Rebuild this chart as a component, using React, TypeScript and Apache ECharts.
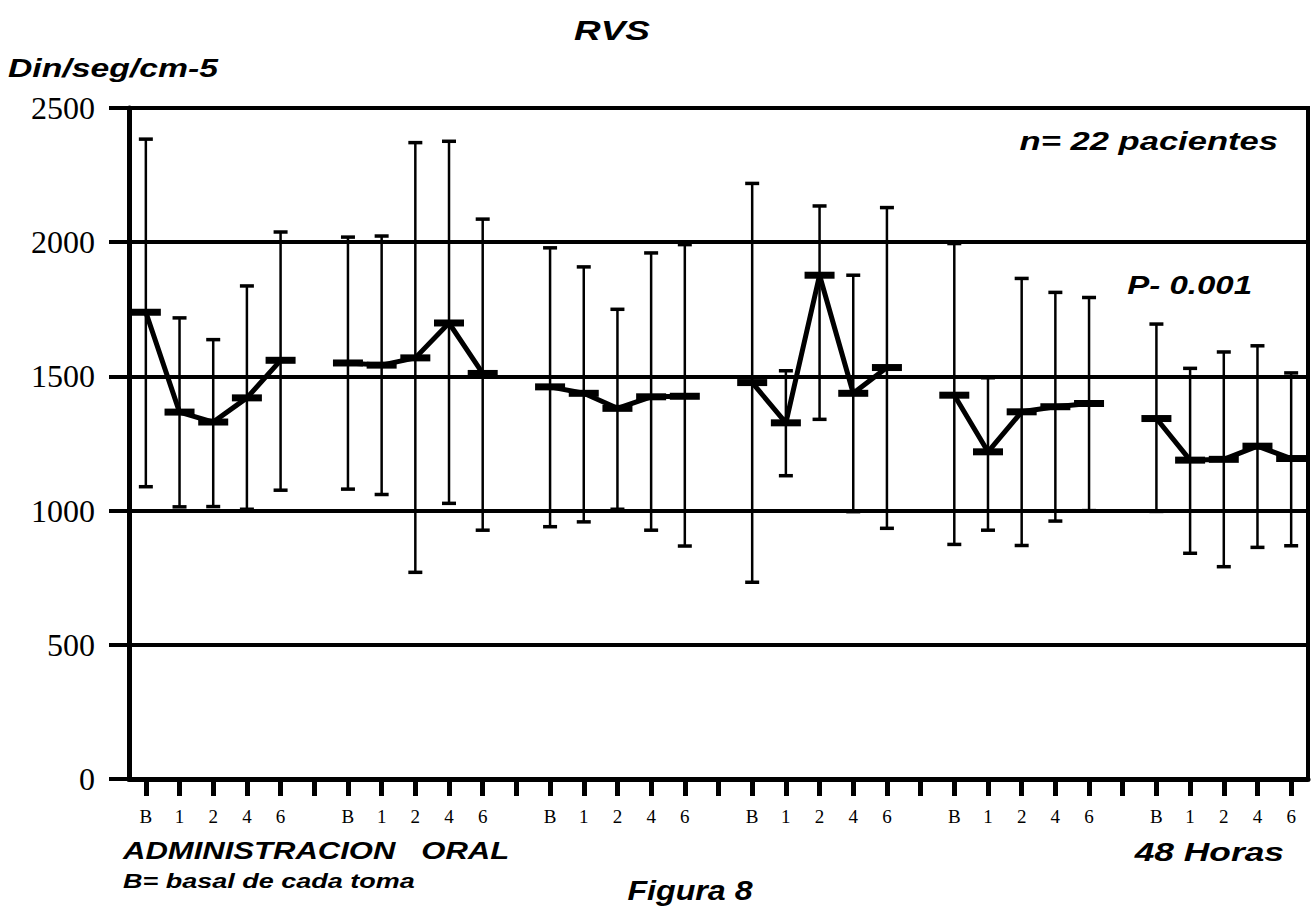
import React, { useEffect, useRef } from "react";
import * as echarts from "echarts";

const timeLabels = ["B", "1", "2", "4", "6"];
const groupCount = 6;

const means = [
  [1739, 1367, 1330, 1420, 1560],
  [1550, 1542, 1569, 1699, 1511],
  [1461, 1437, 1381, 1424, 1426],
  [1477, 1327, 1877, 1437, 1533],
  [1430, 1219, 1368, 1387, 1399],
  [1343, 1188, 1191, 1240, 1194],
];
const upper = [
  [2384, 1718, 1637, 1837, 2038],
  [2019, 2023, 2371, 2376, 2086],
  [1979, 1908, 1750, 1960, 1991],
  [2219, 1521, 2135, 1877, 2129],
  [1995, 1495, 1865, 1813, 1794],
  [1695, 1530, 1591, 1614, 1513],
];
const lower = [
  [1089, 1014, 1015, 1005, 1076],
  [1080, 1060, 770, 1027, 927],
  [940, 958, 1005, 927, 868],
  [733, 1130, 1340, 996, 934],
  [874, 927, 870, 961, 1000],
  [997, 841, 791, 863, 869],
];
const yTicks = [0, 500, 1000, 1500, 2000, 2500];

const SERIF = "'Liberation Serif', 'DejaVu Serif', serif";
const SANS = "'Liberation Sans', Arial, sans-serif";

function label(text: string, x: number, y: number, size: number, align: string, sx: number) {
  return {
    type: "text",
    x,
    y,
    scaleX: sx,
    style: {
      text,
      font: `italic bold ${size}px ${SANS}`,
      fill: "#000",
      textAlign: align,
      textVerticalAlign: "middle",
    },
  };
}

export default function App() {
  const ref = useRef<HTMLDivElement>(null);
  useEffect(() => {
    document.body.style.margin = "0";
    if (!ref.current) return;
    const chart = echarts.init(ref.current, undefined, { renderer: "svg" });

    const categories: string[] = [];
    const meanData: (number | string)[] = [];
    const errData: number[][] = [];
    for (let g = 0; g < groupCount; g++) {
      for (let i = 0; i < timeLabels.length; i++) {
        const idx = categories.length;
        categories.push(timeLabels[i] + "|" + g);
        meanData.push(means[g][i]);
        errData.push([idx, lower[g][i], upper[g][i]]);
      }
      if (g < groupCount - 1) {
        categories.push("|gap" + g);
        meanData.push("-");
      }
    }

    chart.setOption({
      animation: false,
      backgroundColor: "#ffffff",
      grid: {
        left: 129,
        right: 5,
        top: 108,
        bottom: 135,
        show: true,
        borderColor: "#000",
        borderWidth: 4,
        backgroundColor: "transparent",
      },
      xAxis: {
        type: "category",
        data: categories,
        boundaryGap: true,
        axisLine: { show: true, lineStyle: { color: "#000", width: 5 } },
        axisTick: {
          show: true,
          alignWithLabel: true,
          interval: 0,
          length: 17,
          lineStyle: { color: "#000", width: 5 },
        },
        axisLabel: {
          interval: 0,
          margin: 28,
          color: "#000",
          fontFamily: SERIF,
          fontSize: 19,
          formatter: (v: string) => v.split("|")[0],
        },
        splitLine: { show: false },
      },
      yAxis: {
        type: "value",
        min: yTicks[0],
        max: yTicks[yTicks.length - 1],
        interval: 500,
        axisLine: { show: true, lineStyle: { color: "#000", width: 5 } },
        axisTick: { show: true, length: 20, lineStyle: { color: "#000", width: 4 } },
        axisLabel: {
          color: "#000",
          fontFamily: SERIF,
          fontSize: 32,
          margin: 34,
          formatter: (v: number) => String(v),
        },
        splitLine: { show: true, lineStyle: { color: "#000", width: 4 } },
      },
      series: [
        {
          type: "custom",
          name: "error",
          data: errData,
          z: 2,
          renderItem: (params: any, api: any) => {
            const x = api.value(0);
            const lo = api.value(1);
            const hi = api.value(2);
            const pHi = api.coord([x, hi]);
            const pLo = api.coord([x, lo]);
            const hw = 7;
            const st = { stroke: "#000", lineWidth: 2.5 };
            return {
              type: "group",
              children: [
                { type: "line", shape: { x1: pHi[0], y1: pHi[1], x2: pLo[0], y2: pLo[1] }, style: st },
                { type: "line", shape: { x1: pHi[0] - hw, y1: pHi[1], x2: pHi[0] + hw, y2: pHi[1] }, style: { stroke: "#000", lineWidth: 3.5 } },
                { type: "line", shape: { x1: pLo[0] - hw, y1: pLo[1], x2: pLo[0] + hw, y2: pLo[1] }, style: { stroke: "#000", lineWidth: 3.5 } },
              ],
            };
          },
        },
        {
          type: "line",
          name: "media",
          data: meanData,
          connectNulls: false,
          z: 3,
          symbol: "rect",
          symbolSize: [30, 7],
          itemStyle: { color: "#000" },
          lineStyle: { color: "#000", width: 5 },
        },
      ],
      graphic: [
        label("RVS", 612, 30, 28, "center", 1.32),
        label("Din/seg/cm-5", 8, 68, 25, "left", 1.35),
        label("n= 22 pacientes", 1278, 141, 26, "right", 1.33),
        label("P- 0.001", 1252, 285, 26, "right", 1.27),
        label("ADMINISTRACION   ORAL", 123, 851, 23, "left", 1.35),
        label("B= basal de cada toma", 123, 881, 20, "left", 1.35),
        label("48 Horas", 1284, 852, 26, "right", 1.36),
        label("Figura 8", 690, 890, 28, "center", 1.15),
      ],
    });
    return () => chart.dispose();
  }, []);
  return <div ref={ref} style={{ width: 1313, height: 914 }} />;
}
